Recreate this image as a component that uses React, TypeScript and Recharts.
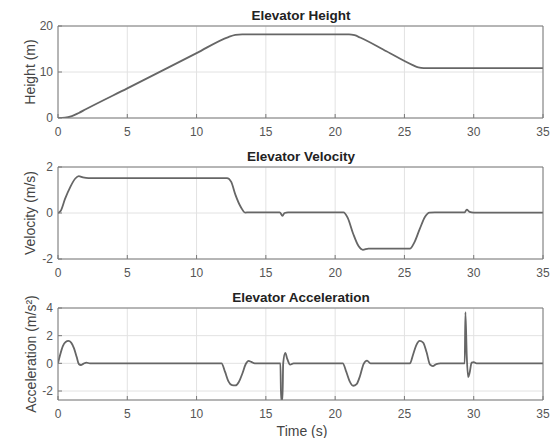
import React from 'react';
import { LineChart, Line, XAxis, YAxis, CartesianGrid } from 'recharts';

const timeTicks = [0, 5, 10, 15, 20, 25, 30, 35];
const heightTicks = [0, 10, 20];
const velocityTicks = [-2, 0, 2];
const accelTicks = [-2, 0, 2, 4];

const heightTime = [0, 0.5, 1.0, 1.5, 2.0, 5.0, 10.0, 12.3, 12.8, 13.3, 21.0, 21.4, 21.8, 23.7, 25.6, 26.0, 26.4, 35];
const heightValue = [0, 0.05, 0.4, 1.1, 1.9, 6.45, 14.1, 17.6, 18.05, 18.2, 18.2, 18.0, 17.5, 14.5, 11.5, 11.0, 10.85, 10.85];

const velocityTime = [0, 0.2, 0.5, 0.9, 1.25, 1.5, 1.8, 2.2, 12.2, 12.5, 12.8, 13.2, 13.5, 13.8, 16.0, 16.2, 16.35, 16.6, 20.6, 20.9, 21.3, 21.7, 22.0, 22.4, 25.4, 25.7, 26.1, 26.5, 26.8, 27.2, 29.35, 29.5, 29.7, 30.0, 35];
const velocityValue = [0, 0.1, 0.6, 1.15, 1.5, 1.6, 1.55, 1.52, 1.52, 1.35, 0.8, 0.25, 0.02, 0.03, 0.03, -0.12, 0.0, 0.03, 0.03, -0.2, -0.9, -1.45, -1.6, -1.55, -1.55, -1.3, -0.7, -0.15, 0.02, 0.03, 0.03, 0.15, 0.05, 0.02, 0.02];

const accelTime = [0, 0.15, 0.35, 0.55, 0.75, 0.95, 1.15, 1.35, 1.5, 1.65, 1.85, 2.05, 2.3, 11.8, 12.05, 12.3, 12.55, 12.8, 13.05, 13.3, 13.55, 13.75, 13.95, 14.2, 16.05, 16.1, 16.2, 16.25, 16.4, 16.55, 16.75, 17.0, 20.55, 20.8, 21.05, 21.3, 21.55, 21.8, 22.05, 22.3, 22.55, 25.4, 25.6, 25.85, 26.1, 26.35, 26.6, 26.85, 27.05, 27.3, 27.6, 29.35, 29.4, 29.5, 29.6, 29.7, 29.85, 30.0, 30.2, 35];
const accelValue = [0, 0.6, 1.25, 1.55, 1.62, 1.5, 1.1, 0.45, -0.05, -0.12, -0.02, 0.05, 0, 0, -0.6, -1.3, -1.58, -1.6, -1.35, -0.75, -0.05, 0.18, 0.1, 0, 0, -2.65, -2.65, 0, 0.75, 0.3, -0.1, 0, 0, -0.6, -1.3, -1.62, -1.5, -0.9, -0.05, 0.2, 0, 0, 0.55, 1.3, 1.62, 1.5, 0.8, -0.1, -0.2, -0.05, 0, 0, 3.7, 0.5, -1.0, -0.7, 0.05, 0.08, 0, 0];

const zip = (t: number[], v: number[]) => t.map((x, i) => ({ t: x, v: v[i] }));

const FONT = '"Liberation Sans", Arial, Helvetica, sans-serif';
const tickStyle = { fontSize: 12, fill: '#555', fontFamily: FONT };
const AXIS = '#7a7a7a';

function Panel({ data, yDomain, yTicks, top }: { data: { t: number; v: number }[]; yDomain: [number, number]; yTicks: number[]; top: number }) {
  return (
    <div style={{ position: 'absolute', left: 0, top, width: 556, height: 140 }}>
      <LineChart width={556} height={140} data={data} margin={{ top: 25, right: 12, bottom: 0, left: 0 }}>
        <CartesianGrid xAxisId="b" yAxisId="l" stroke="#e2e2e2" strokeWidth={1} />
        <XAxis xAxisId="b" dataKey="t" type="number" domain={[0, 35]} ticks={timeTicks} interval={0} orientation="bottom" height={22} stroke={AXIS} tickSize={-4} tickMargin={13} tick={tickStyle} allowDataOverflow />
        <XAxis xAxisId="top" dataKey="t" type="number" domain={[0, 35]} ticks={timeTicks} interval={0} orientation="top" height={1} stroke={AXIS} tickSize={-4} tick={false} allowDataOverflow />
        <YAxis yAxisId="l" type="number" domain={yDomain} ticks={yTicks} interval={0} width={58} stroke={AXIS} tickSize={-4} tickMargin={9} tick={tickStyle} allowDataOverflow />
        <YAxis yAxisId="r" orientation="right" type="number" domain={yDomain} ticks={yTicks} interval={0} width={1} stroke={AXIS} tickSize={-4} tick={false} allowDataOverflow />
        <Line xAxisId="b" yAxisId="l" type="monotone" dataKey="v" stroke="#666" strokeWidth={1.8} dot={false} isAnimationActive={false} />
      </LineChart>
    </div>
  );
}

export default function App() {
  return (
    <div style={{ position: 'absolute', left: 0, top: 0, width: 556, height: 438, background: '#fff' }}>
      <Panel data={zip(heightTime, heightValue)} yDomain={[0, 20]} yTicks={heightTicks} top={0} />
      <Panel data={zip(velocityTime, velocityValue)} yDomain={[-2, 2]} yTicks={velocityTicks} top={141} />
      <Panel data={zip(accelTime, accelValue)} yDomain={[-2.65, 4]} yTicks={accelTicks} top={282} />
      <svg width={556} height={438} style={{ position: 'absolute', left: 0, top: 0, pointerEvents: 'none' }}>
        <g fontFamily={FONT} textAnchor="middle">
          <text x={301} y={20} fontSize={13.5} fontWeight="bold" fill="#222">Elevator Height</text>
          <text x={301} y={161} fontSize={13.5} fontWeight="bold" fill="#222">Elevator Velocity</text>
          <text x={301} y={302} fontSize={13.5} fontWeight="bold" fill="#222">Elevator Acceleration</text>
          <text x={302} y={436} fontSize={14} fill="#444">Time (s)</text>
          <text transform="translate(35,72) rotate(-90)" fontSize={14} fill="#444">Height (m)</text>
          <text transform="translate(35,213) rotate(-90)" fontSize={14} fill="#444">Velocity (m/s)</text>
          <text transform="translate(36,354) rotate(-90)" fontSize={14} fill="#444">Acceleration (m/s²)</text>
        </g>
      </svg>
    </div>
  );
}
